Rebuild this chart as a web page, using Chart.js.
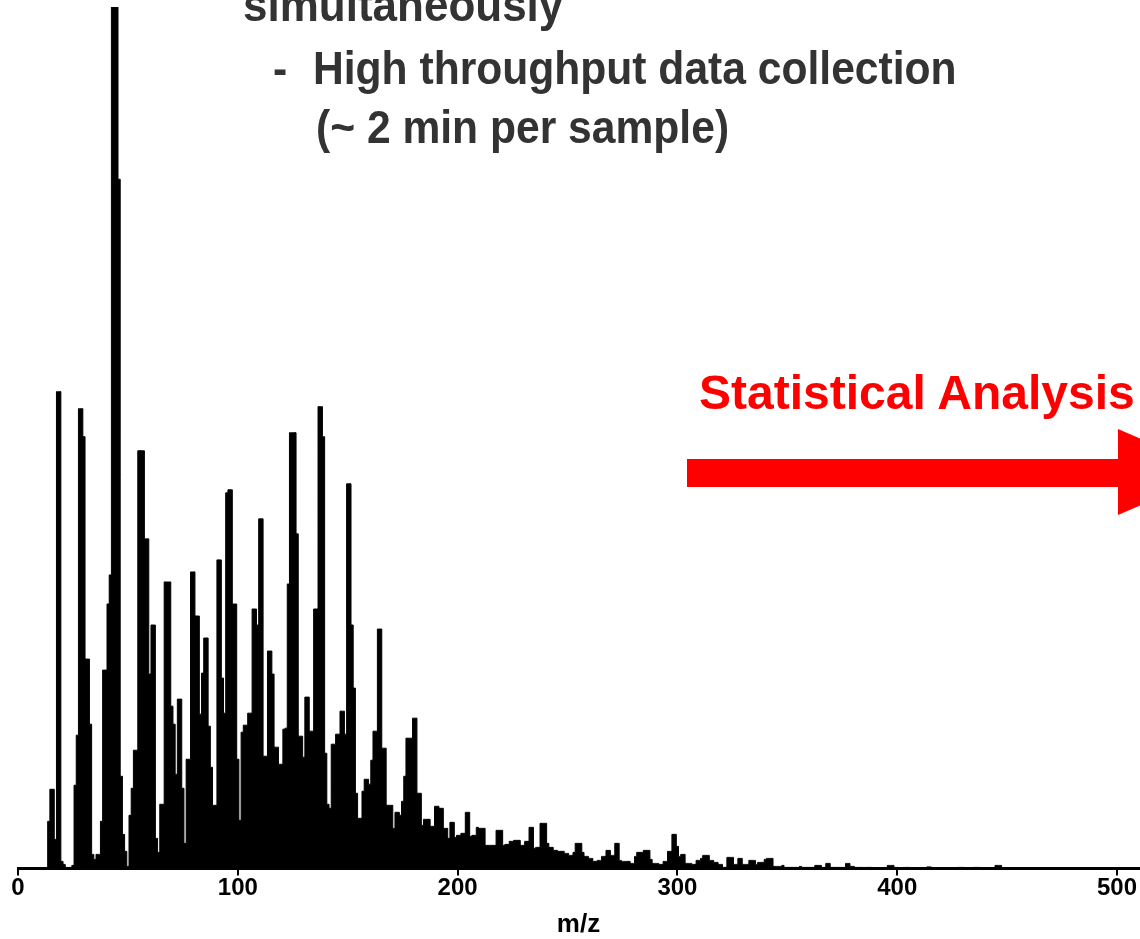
<!DOCTYPE html>
<html lang="en">
<head>
<meta charset="UTF-8">
<title>m/z spectrum</title>
<script src="https://cdn.jsdelivr.net/npm/chart.js"></script>
<style>
  html, body { margin: 0; padding: 0; background: #fff; overflow: hidden; }
  #wrap { position: relative; width: 1140px; height: 939px; overflow: hidden; }
  #wrap canvas { position: absolute; left: 0; top: 0; }
  .txt { position: absolute; white-space: pre; font-family: "Liberation Sans", Arial, sans-serif; font-weight: bold; line-height: 1; transform-origin: 0 85%; }
  .grey { color: #333333; transform: scaleY(1.07); }
  .red { color: #ff0000; }
  #arrow { position: absolute; left: 0; top: 0; }
</style>
</head>
<body>
<div id="wrap">
  <canvas id="spectrum"></canvas>
  <div class="txt grey" style="left:243px; top:-16px; font-size:44px;">simultaneously</div>
  <div class="txt grey" style="left:273px; top:48px; font-size:42.6px;">-</div>
  <div class="txt grey" style="left:313px; top:48px; font-size:42.6px;">High throughput data collection</div>
  <div class="txt grey" style="left:316px; top:107px; font-size:42.6px;">(~ 2 min per sample)</div>
  <div class="txt red" style="left:699px; top:369px; font-size:48px;">Statistical Analysis</div>
  <svg id="arrow" width="1140" height="939">
    <rect x="687" y="459" width="433" height="28" fill="#ff0000"></rect>
    <polygon points="1118,429 1218,472 1118,515" fill="#ff0000"></polygon>
  </svg>
</div>

<script>
  // m/z of the first value in the intensity list, one value per unit m/z
  var mzFirst = 10;

  // intensity (arbitrary units, top peak = 860)
  var intensity = [
    0, 0, 0, 0, 47, 79, 79, 29, 476, 476,          // 10-19
    7, 4, 1, 1, 1, 3, 83, 133, 459, 459,           // 20-29
    431, 209, 209, 144, 14, 9, 14, 14, 47, 198,    // 30-39
    198, 264, 293, 860, 860, 860, 688, 92, 34, 17, // 40-49
    2, 53, 80, 118, 118, 417, 417, 417, 329, 329,  // 50-59
    194, 243, 243, 30, 16, 64, 64, 286, 286, 286,  // 60-69
    162, 144, 94, 169, 169, 80, 25, 109, 109, 296, // 70-79
    296, 252, 252, 154, 195, 230, 230, 142, 101, 63, // 80-89
    63, 308, 308, 190, 155, 375, 378, 378, 264, 264, // 90-99
    109, 48, 136, 143, 143, 155, 155, 259, 259, 243, // 100-109
    349, 349, 112, 112, 217, 217, 194, 121, 121, 104, // 110-119
    104, 139, 140, 284, 435, 435, 435, 334, 132, 132, // 120-129
    111, 171, 171, 137, 137, 259, 259, 461, 461, 431, // 130-139
    115, 64, 60, 124, 124, 134, 134, 157, 157, 134,   // 140-149
    384, 384, 243, 180, 75, 50, 50, 77, 89, 89,       // 150-159
    84, 108, 137, 137, 239, 239, 120, 120, 63, 63,    // 160-169
    63, 40, 56, 56, 53, 67, 92, 130, 130, 130,        // 170-179
    150, 150, 75, 75, 43, 49, 49, 49, 42, 42,         // 180-189
    62, 62, 60, 60, 40, 40, 30, 46, 46, 31,           // 190-199
    33, 33, 35, 35, 56, 56, 32, 33, 33, 41,           // 200-209
    40, 40, 40, 23, 23, 23, 23, 23, 38, 38,           // 210-219
    38, 23, 24, 24, 27, 27, 28, 28, 28, 23,           // 220-229
    23, 27, 27, 41, 41, 20, 21, 21, 45, 45,           // 230-239
    45, 25, 21, 21, 18, 18, 17, 17, 17, 15,           // 240-249
    15, 13, 13, 16, 25, 25, 25, 16, 12, 12,           // 250-259
    10, 10, 7, 7, 8, 8, 12, 12, 18, 18,               // 260-269
    13, 13, 25, 25, 8, 7, 7, 7, 7, 5,                 // 270-279
    5, 12, 16, 16, 16, 18, 18, 18, 9, 5,              // 280-289
    5, 5, 4, 4, 7, 7, 17, 17, 34, 34,                 // 290-299
    22, 12, 14, 14, 5, 5, 5, 4, 4, 8,                 // 300-309
    8, 10, 13, 13, 13, 8, 8, 6, 6, 4,                 // 310-319
    4, 1, 1, 11, 11, 11, 4, 4, 10, 10,                // 320-329
    4, 4, 4, 8, 8, 8, 4, 6, 6, 6,                     // 330-339
    9, 10, 10, 10, 2, 2, 2, 2, 3, 1,                  // 340-349
    1, 1, 1, 1, 1, 1, 2, 1, 1, 1,                     // 350-359
    1, 1, 1, 3, 3, 3, 1, 1, 5, 5,                     // 360-369
    1, 1, 1, 1, 1, 1, 1, 5, 5, 2,                     // 370-379
    2, 1, 1, 1, 1, 0.5, 1, 1, 1, 0.5,                 // 380-389
    0.5, 0.5, 0.5, 0.5, 0.5, 0.5, 3, 3, 3, 1,         // 390-399
    1, 0.5, 0.5, 0.5, 1, 1, 0.5, 0.5, 0.5, 0.5,       // 400-409
    0.5, 0.5, 0.5, 0.5, 1.5, 1.5, 0.5, 0.5, 0.5, 0.5, // 410-419
    0.5, 0.5, 0.5, 0.5, 0.5, 0.5, 0.5, 0.5, 1, 1,     // 420-429
    1, 0.5, 0.5, 0.5, 0.5, 1, 1, 1, 0.5, 0.5,         // 430-439
    0.5, 0.5, 0.5, 0.5, 0.5, 3, 3, 3, 0.5, 0.5,       // 440-449
    0                                                 // 450
  ];

  var xMin = 0;
  var xMax = 510;
  var xTicks = [0, 100, 200, 300, 400, 500];
  var xTitle = 'm/z';

  var fam = '"Liberation Sans", Arial, sans-serif';

  // pontos {x, y} para a escala linear
  var pontos = [];
  for (var i = 0; i < intensity.length; i++) {
    pontos.push({ x: mzFirst + i, y: intensity[i] });
  }

  var ctx = document.getElementById('spectrum');
  var myChart = new Chart(ctx, {
    type: 'line',
    data: {
      datasets: [{
        data: pontos,
        stepped: 'middle',
        fill: 'origin',
        backgroundColor: '#000000',
        borderColor: '#000000',
        borderWidth: 1,
        pointRadius: 0
      }]
    },
    options: {
      responsive: true,
      maintainAspectRatio: false,
      animation: false,
      layout: { padding: { left: 18, right: 1, top: 7, bottom: 0 } },
      plugins: { legend: { display: false }, tooltip: { enabled: false } },
      scales: {
        x: {
          type: 'linear',
          min: xMin,
          max: xMax,
          afterBuildTicks: function (scale) {
            scale.ticks = xTicks.map(function (v) { return { value: v }; });
          },
          border: { display: true, color: '#000000', width: 3 },
          grid: { display: true, drawOnChartArea: false, drawTicks: true, tickLength: 7, color: '#000000', lineWidth: 2 },
          ticks: {
            maxRotation: 0,
            autoSkip: false,
            padding: 1,
            color: '#000000',
            font: { family: fam, size: 24, weight: 'bold', lineHeight: 1 }
          },
          title: {
            display: true,
            text: xTitle,
            color: '#000000',
            padding: { top: 9, bottom: 0 },
            font: { family: fam, size: 26, weight: 'bold', lineHeight: 1.1 }
          }
        },
        y: { display: false, min: 0, max: 860 }
      }
    }
  });
</script>
</body>
</html>
